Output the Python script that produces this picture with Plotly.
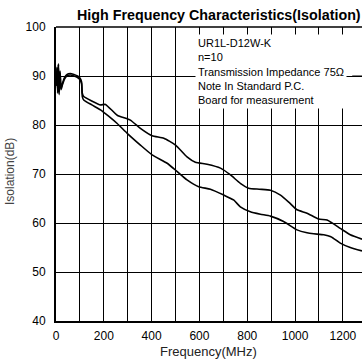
import plotly.graph_objects as go

# Isolation vs. frequency, two measured samples (MHz, dB)
freq_a = [0, 4, 7, 10, 13, 17, 21, 27, 35, 45, 60, 75, 90, 100, 107, 110, 116,
          150, 186, 207, 256, 311, 353, 402, 451, 500, 548, 583, 632, 688, 730,
          771, 806, 850, 897, 939, 975, 1008, 1050, 1099, 1134, 1189, 1231, 1280]
iso_a = [88, 91.5, 87, 92.5, 86.8, 91, 87.5, 88.5, 89.6, 90.3, 90.5, 90.3, 90, 89.6,
         88.8, 86.5, 85.8, 84.9, 84.1, 84.2, 82.0, 81.0, 79.3, 77.8, 77.3, 75.9,
         73.5, 72.4, 72.0, 71.2, 69.8, 68.1, 67.1, 66.9, 66.7, 65.7, 64.2, 62.7,
         62.0, 60.8, 60.6, 58.9, 57.6, 56.7]

freq_b = [0, 4, 7, 10, 13, 17, 21, 27, 35, 45, 60, 75, 90, 100, 107, 110, 116,
          150, 186, 220, 256, 300, 353, 402, 465, 507, 548, 597, 646, 702, 743,
          771, 813, 855, 897, 952, 1008, 1050, 1078, 1120, 1150, 1189, 1231, 1280]
iso_b = [88, 91.8, 86.5, 92.3, 86.2, 90.6, 87.2, 88.2, 89.3, 90.0, 90.2, 90.0, 89.7,
         89.3, 88.4, 85.8, 85.1, 84.1, 83.1, 81.8, 80.3, 78.2, 75.9, 73.9, 72.2,
         70.5, 68.8, 67.4, 66.9, 65.7, 64.7, 63.3, 62.3, 61.8, 61.4, 60.3, 58.6,
         58.0, 57.8, 57.6, 57.2, 55.9, 55.0, 54.3]

x_ticks = [0, 200, 400, 600, 800, 1000, 1200]
y_ticks = [40, 50, 60, 70, 80, 90, 100]

SANS = "Liberation Sans, Arial, Helvetica, sans-serif"

fig = go.Figure()
for fx, fy in [(freq_a, iso_a), (freq_b, iso_b)]:
    fig.add_trace(go.Scatter(
        x=fx, y=fy, mode="lines",
        line=dict(color="black", width=1.6, shape="spline", smoothing=0.5),
        showlegend=False, hoverinfo="skip",
    ))

fig.update_layout(
    width=362, height=363,
    margin=dict(l=56, r=0, t=27, b=42),
    paper_bgcolor="white", plot_bgcolor="white",
    xaxis=dict(
        range=[0, 1280], tickvals=x_ticks, ticktext=[str(v) for v in x_ticks],
        showgrid=True, gridcolor="black", gridwidth=1,
        minor=dict(dtick=100, tick0=0, showgrid=True, gridcolor="black", gridwidth=1),
        zeroline=False, showline=True, linecolor="black", linewidth=2,
        ticks="", ticklabelstandoff=3, automargin=False,
        tickfont=dict(family=SANS, size=12, color="black"),
    ),
    yaxis=dict(
        range=[40, 100], tickvals=y_ticks, ticktext=[str(v) for v in y_ticks],
        showgrid=True, gridcolor="black", gridwidth=1,
        zeroline=False, showline=True, linecolor="black", linewidth=2,
        ticks="", ticklabelstandoff=6, automargin=False,
        tickfont=dict(family=SANS, size=12, color="black"),
    ),
    shapes=[
        # top frame edge
        dict(type="line", xref="paper", yref="paper", x0=0, x1=1, y0=1, y1=1,
             line=dict(color="black", width=1.5)),
        # short stretch of the 90 dB grid line to the right of the note box
        dict(type="line", xref="paper", yref="y", x0=0.968, x1=1, y0=90, y1=90,
             line=dict(color="black", width=1), layer="above"),
    ],
    annotations=[
        dict(text="<b>High Frequency Characteristics(Isolation)</b>",
             xref="paper", yref="paper", x=0.533, y=1.0, yshift=12,
             xanchor="center", yanchor="middle", showarrow=False,
             font=dict(family=SANS, size=14.3, color="black")),
        dict(text="Isolation(dB)", xref="paper", yref="paper",
             x=-0.15, y=0.507, xanchor="center", yanchor="middle",
             textangle=-90, showarrow=False,
             font=dict(family=SANS, size=12, color="#444")),
        dict(text="Frequency(MHz)", xref="paper", yref="paper",
             x=0.498, y=0, yshift=-30, xanchor="center", yanchor="middle",
             showarrow=False, font=dict(family=SANS, size=13, color="#222")),
        dict(text="UR1L-D12W-K<br>n=10<br>Transmission Impedance 75\u03a9<br>"
                  "Note In Standard P.C.<br>Board for measurement",
             xref="paper", yref="paper", x=0.455, y=0.975,
             xanchor="left", yanchor="top", align="left", showarrow=False,
             bgcolor="white", borderpad=2,
             font=dict(family=SANS, size=11, color="black")),
    ],
)

fig.write_html("out.html")
